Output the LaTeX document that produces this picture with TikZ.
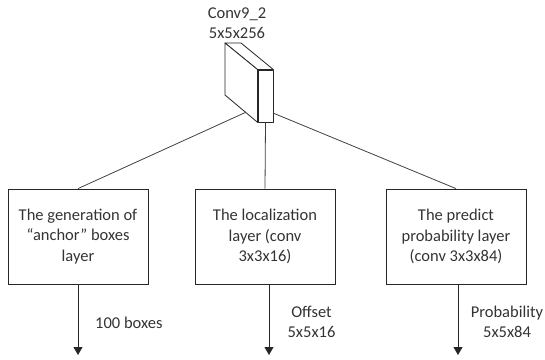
\documentclass[tikz,border=0pt]{standalone}
\usepackage{fontspec}
\setmainfont{Carlito}
\usetikzlibrary{arrows.meta}
\begin{document}
\begin{tikzpicture}[x=1pt,y=-1pt,
  txt/.style={font=\fontsize{16.5}{20.5}\selectfont, align=center, inner sep=0pt},
  layerbox/.style={draw=black!85, line width=0.8pt, minimum width=140pt, minimum height=95pt,
    inner sep=0pt, font=\fontsize{16.5}{20.5}\selectfont, align=center, text=black!80},
  link/.style={draw=black!75, line width=0.8pt},
  outarrow/.style={draw=black!85, line width=0.8pt, -{Triangle[width=9pt,length=8pt]}},
  face/.style={draw=black!85, line width=0.8pt, fill=white, line join=round}
]
\useasboundingbox (0,0) rectangle (545,359);

% cube (Conv9_2 feature map)
\node[face, minimum width=15pt, minimum height=52pt, inner sep=0pt] (front) at (265.5,96) {};
\draw[face] (225,43) -- (241,43) -- (front.north east) -- (front.north west) -- cycle;
\draw[face] (225,43) -- (front.north west) -- (front.south west) -- (225,95) -- cycle;
\node[txt, text=black!80] (conv) at (237,23) {Conv9\_2\\5x5x256};

\coordinate (cl) at (246,112.2);
\coordinate (cr) at (273,113);

% layer boxes
\node[layerbox] (b1) at (78,236.5) {The generation of\\“anchor” boxes\\layer};
\node[layerbox] (b2) at (265,236.5) {The localization\\layer (conv\\3x3x16)};
\node[layerbox] (b3) at (456,236.5) {The predict\\probability layer\\(conv 3x3x84)};

% connectors from cube
\draw[link] (cl) -- (b1.north);
\draw[link] (front.south) -- (b2.north);
\draw[link] (cr) -- (b3.north);

% outputs
\coordinate (o1) at (78,355);
\coordinate (o2) at (269,355);
\coordinate (o3) at (458,355);
\draw[outarrow] (b1.south) -- (o1);
\draw[outarrow] (b2.south -| o2) -- (o2);
\draw[outarrow] (b3.south -| o3) -- (o3);

\node[txt, anchor=west, text=black!80] (l1) at (95,323) {100 boxes};
\node[txt, text=black!80] (l2) at (311.5,322) {Offset\\5x5x16};
\node[txt, text=black!80] (l3) at (507,322) {Probability\\5x5x84};
\end{tikzpicture}
\end{document}
